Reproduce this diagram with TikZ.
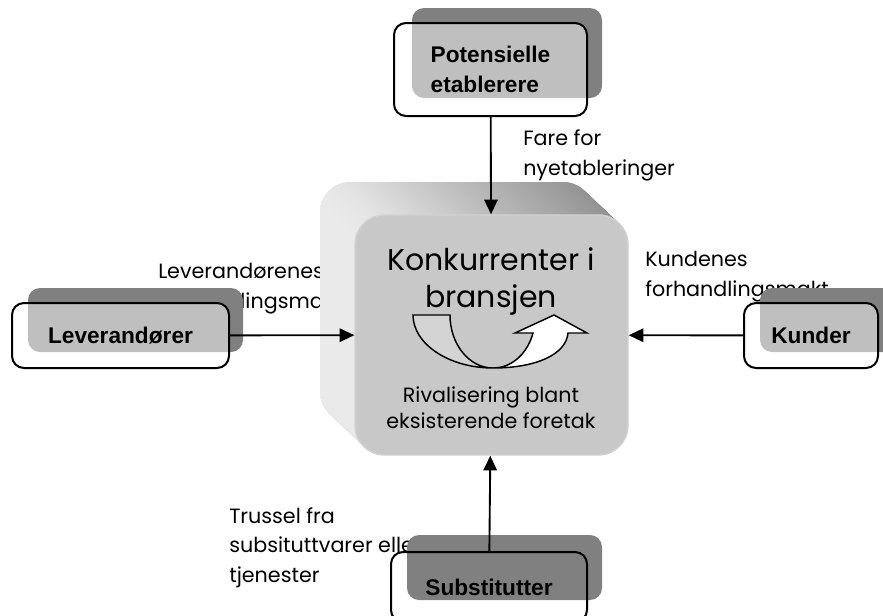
\documentclass[tikz,border=0pt]{standalone}
\usepackage{fontspec}
\setmainfont{Poppins}
\newfontfamily\boxfont{Liberation Sans}
\usetikzlibrary{arrows.meta}

\definecolor{shadowgray}{HTML}{808080}
\definecolor{facegray}{HTML}{C8C8C8}
\definecolor{rimgray}{HTML}{D2D2D2}
\definecolor{sidelight}{HTML}{EAEAEA}
\definecolor{sidedark}{HTML}{8E8E8E}
\definecolor{turngray}{HTML}{D4D4D4}

\begin{document}
\begin{tikzpicture}[x=0.75pt,y=-0.75pt,
  lbl/.style={anchor=base west,align=left,inner sep=0pt,font=\fontsize{15.5}{22}\selectfont},
  shadowbox/.style={fill=shadowgray,rounded corners=9pt},
  forcebox/.style={draw,line width=1.5pt,rounded corners=9pt,fill=white,fill opacity=0.5,text opacity=1,
    align=left,inner sep=0pt,font=\boxfont\bfseries\fontsize{17}{22.5}\selectfont},
  force/.style={line width=1.4pt,-{Triangle[length=11pt,width=10pt]}}]
\useasboundingbox (0,0) rectangle (883,615);

% labels on the forces (base = last line)
\node[lbl] (faretxt) at (523,175) {Fare for\\nyetableringer};
\node[lbl] (levtxt) at (158,308) {Leverandørenes\\forhandlingsmakt};
\node[lbl] (kuntxt) at (645,296) {Kundenes\\forhandlingsmakt};
\node[lbl] (trutxt) at (229,582) {Trussel fra\\subsituttvarer eller\\tjenester};

% shadows
\fill[shadowbox] (412,8) rectangle (602,98);
\fill[shadowbox] (28,288) rectangle (243,352);
\fill[shadowbox] (760,288) rectangle (900,352);
\fill[shadowbox] (407,535) rectangle (602,600);

% the four forces
\node[forcebox,minimum width=193*0.75pt,minimum height=93*0.75pt] (pot) at (490.5,69.5) {Potensielle\\etablerere};
\node[forcebox,minimum width=217*0.75pt,minimum height=65*0.75pt] (lev) at (120.5,335.5) {Leverandører};
\node[forcebox,minimum width=134*0.75pt,minimum height=65*0.75pt] (kun) at (811,335.5) {Kunder};
\node[forcebox,fill=none,minimum width=196*0.75pt,minimum height=70*0.75pt] (sub) at (489,587) {Substitutter};

% the block in the middle
\foreach \d in {0,...,34}
  \shade[left color=sidelight,right color=sidedark,rounded corners=22pt]
    (320+\d,182+\d*0.943) rectangle (593+\d,422+\d*0.943);
\node[fill=facegray,draw=rimgray,line width=1pt,rounded corners=22pt,
  minimum width=273*0.75pt,minimum height=240*0.75pt] (konk) at (491.5,335) {};
\node[anchor=base,align=center,inner sep=0pt,font=\fontsize{22.5}{27.75}\selectfont] (konktxt) at (491,307) {Konkurrenter i\\bransjen};
\node[anchor=base,align=center,inner sep=0pt,font=\fontsize{15.5}{19}\selectfont] (rivtxt) at (491,428) {Rivalisering blant\\eksisterende foretak};

% u-turn
\draw[line width=1.1pt,fill=turngray] (413,315) -- (450,315) .. controls (450,344) and (469,368) .. (493,368)
  .. controls (449,368) and (413,344) .. (413,315) -- cycle;
\draw[line width=1.1pt,fill=white] (493,368) .. controls (535,368) and (566,355) .. (568,333) -- (587,333)
  -- (554,315) -- (515,333) -- (533,333) .. controls (528,352) and (513,368) .. (493,368) -- cycle;

% arrows
\draw[force] (pot) -- (konk);
\draw[force] (lev) -- (konk);
\draw[force] (kun) -- (konk);
\draw[force] (sub) -- (konk);
\end{tikzpicture}
\end{document}
